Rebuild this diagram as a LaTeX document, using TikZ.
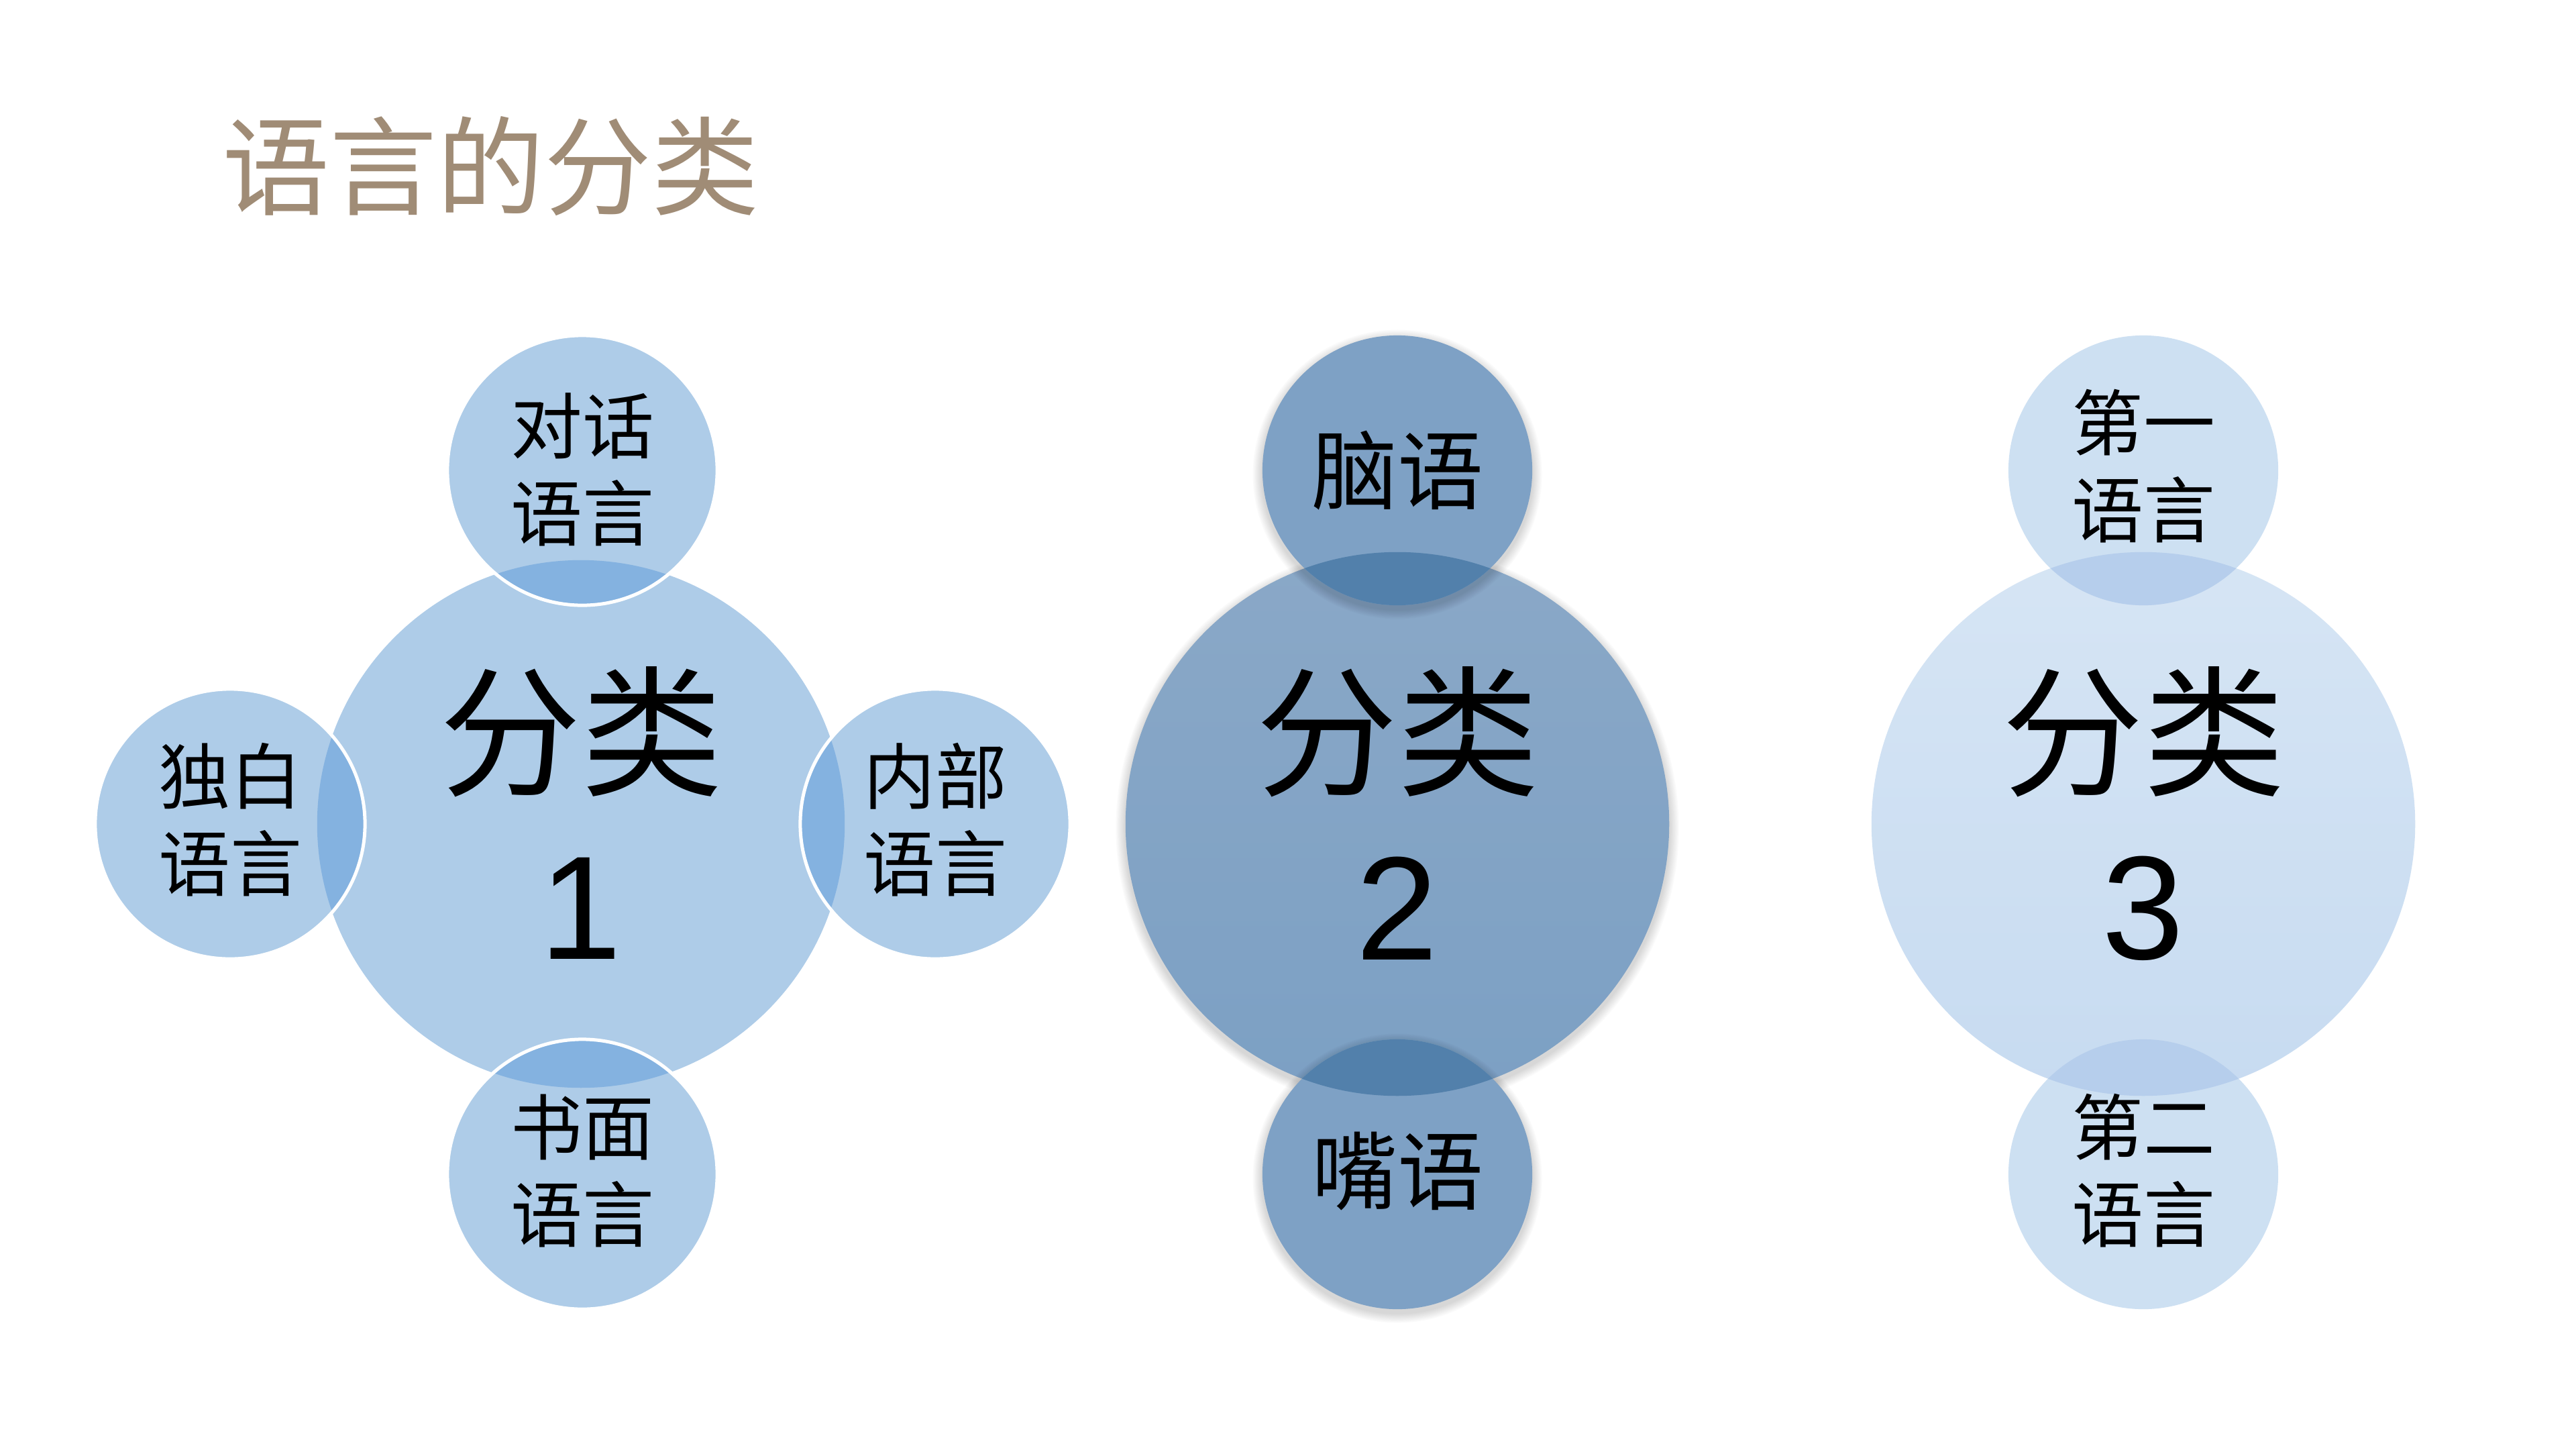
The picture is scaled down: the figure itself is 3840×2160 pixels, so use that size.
\documentclass[tikz,border=0pt]{standalone}
\usepackage{fontspec}
\setmainfont{Liberation Sans}
\newfontfamily\cjk{Noto Sans CJK SC}
\newfontfamily\arialf{Liberation Sans}
\definecolor{titlec}{RGB}{160,140,118}
\definecolor{gA}{RGB}{174,204,232}
\definecolor{gAov}{RGB}{132,178,224}
\definecolor{gBtop}{RGB}{138,168,199}
\definecolor{gBbot}{RGB}{124,160,196}
\definecolor{gBsm}{RGB}{126,161,197}
\definecolor{gBov}{RGB}{82,128,171}
\definecolor{gCtop}{RGB}{214,229,244}
\definecolor{gCbot}{RGB}{199,219,241}
\definecolor{gCsm}{RGB}{205,224,242}
\definecolor{gCov}{RGB}{182,206,236}
\tikzset{
  bigc/.style={circle, inner sep=0pt, minimum size=8.1cm, draw=none},
  bigcA/.style={circle, inner sep=0pt, minimum size=7.86cm, draw=none, fill=gA},
  smc/.style={circle, inner sep=0pt, minimum size=4.02cm, draw=none},
  bigtxt/.style={inner sep=0pt, font=\cjk\fontsize{60pt}{60pt}\selectfont},
  bignum/.style={inner sep=0pt, font=\arialf\fontsize{62.5pt}{62.5pt}\selectfont},
  smtxt/.style={inner sep=0pt, font=\cjk\fontsize{30.4pt}{30.4pt}\selectfont},
  midtxt/.style={inner sep=0pt, font=\cjk\fontsize{36.4pt}{36.4pt}\selectfont},
  whiteedge/.style={draw=white, line width=0.05cm},
  shadowlayer/.style={fill=black, opacity=0.02}
}
\begin{document}
\begin{tikzpicture}[x=0.01cm, y=-0.01cm]
\useasboundingbox (0,0) rectangle (3840,2160);
\fill[white] (0,0) rectangle (3840,2160);

% title
\node[anchor=west, inner sep=0pt, text=titlec, font=\cjk\fontsize{45.5pt}{45.5pt}\selectfont] (title) at (331,248) {语言的分类};

% ---------- group 1 ----------
\node[bigcA] (b1) at (866,1228) {};
\node[smc, fill=gA] (t1) at (868,701) {};
\node[smc, fill=gA] (d1) at (868,1750) {};
\node[smc, fill=gA] (l1) at (343,1228) {};
\node[smc, fill=gA] (r1) at (1394,1228) {};
\begin{scope}
  \clip (866,1228) circle[radius=3.93cm];
  \fill[gAov] (t1.center) circle[radius=2.01cm];
  \fill[gAov] (d1.center) circle[radius=2.01cm];
  \fill[gAov] (l1.center) circle[radius=2.01cm];
  \fill[gAov] (r1.center) circle[radius=2.01cm];
\end{scope}
\draw[whiteedge] (t1.center) circle[radius=2.01cm];
\draw[whiteedge] (d1.center) circle[radius=2.01cm];
\draw[whiteedge] (l1.center) circle[radius=2.01cm];
\draw[whiteedge] (r1.center) circle[radius=2.01cm];

\node[bigtxt] (b1a) at (866,1091) {分类};
\node[bignum] (b1b) at (866,1354) {1};
\node[smtxt] (t1a) at (868,635) {对话};
\node[smtxt] (t1b) at (868,765) {语言};
\node[smtxt] (d1a) at (868,1680) {书面};
\node[smtxt] (d1b) at (868,1810) {语言};
\node[smtxt] (l1a) at (343,1157) {独白};
\node[smtxt] (l1b) at (343,1287) {语言};
\node[smtxt] (r1a) at (1394,1157) {内部};
\node[smtxt] (r1b) at (1394,1287) {语言};

% ---------- group 2 ----------
\foreach \k in {1,...,8}
  \fill[shadowlayer] (2083,1234) circle[radius={4.05cm+\k*0.018cm}];
\node[bigc, top color=gBtop, bottom color=gBbot] (b2) at (2083,1228) {};
\foreach \k in {1,...,8}
  \fill[shadowlayer] (2083,707) circle[radius={2.01cm+\k*0.018cm}];
\node[smc, fill=gBsm] (t2) at (2083,701) {};
\foreach \k in {1,...,8}
  \fill[shadowlayer] (2083,1756) circle[radius={2.01cm+\k*0.018cm}];
\node[smc, fill=gBsm] (d2) at (2083,1750) {};
\begin{scope}
  \clip (2083,1228) circle[radius=4.05cm];
  \fill[gBov] (t2.center) circle[radius=2.01cm];
  \fill[gBov] (d2.center) circle[radius=2.01cm];
\end{scope}
\node[bigtxt] (b2a) at (2083,1091) {分类};
\node[bignum] (b2b) at (2083,1354) {2};
\node[midtxt] (t2a) at (2083,701) {脑语};
\node[midtxt] (d2a) at (2083,1746) {嘴语};

% ---------- group 3 ----------
\node[bigc, top color=gCtop, bottom color=gCbot] (b3) at (3195,1228) {};
\node[smc, fill=gCsm] (t3) at (3195,701) {};
\node[smc, fill=gCsm] (d3) at (3195,1750) {};
\begin{scope}
  \clip (3195,1228) circle[radius=4.05cm];
  \fill[gCov] (t3.center) circle[radius=2.01cm];
  \fill[gCov] (d3.center) circle[radius=2.01cm];
\end{scope}
\node[bigtxt] (b3a) at (3195,1091) {分类};
\node[bignum] (b3b) at (3195,1354) {3};
\node[smtxt] (t3a) at (3195,630) {第一};
\node[smtxt] (t3b) at (3195,760) {语言};
\node[smtxt] (d3a) at (3195,1680) {第二};
\node[smtxt] (d3b) at (3195,1810) {语言};
\end{tikzpicture}
\end{document}
